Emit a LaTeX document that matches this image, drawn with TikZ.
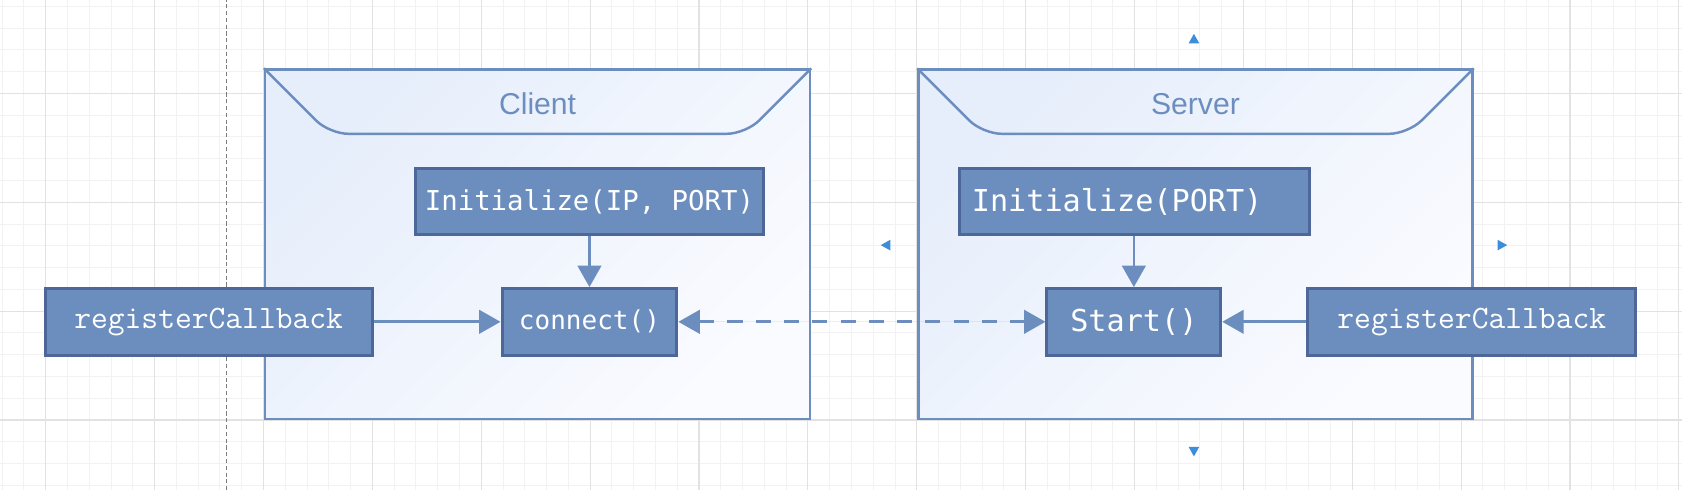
\documentclass[tikz,border=0pt]{standalone}
\usepackage{fontspec}
\setmainfont{Liberation Sans}
\newfontfamily\codefont{DejaVu Sans Mono}
\usetikzlibrary{arrows.meta}
\definecolor{netblue}{HTML}{6C8EBF}
\definecolor{netdark}{HTML}{4D6898}
\definecolor{netlight}{HTML}{E6EEFB}
\definecolor{netpale}{HTML}{FAFBFF}
\definecolor{gridminor}{HTML}{F2F2F2}
\definecolor{gridmajor}{HTML}{E2E2E2}
\definecolor{pagegray}{HTML}{7C7C7C}
\definecolor{hoverblue}{HTML}{3C8EDB}
\tikzset{
  frame/.style={
    draw=netblue,
    line width=1.3pt,
    top color=netlight,
    bottom color=netpale,
    shading angle=45,
    inner sep=0pt
  },
  notch/.style={
    draw=netblue,
    line width=1.3pt,
    rounded corners=10pt
  },
  title/.style={
    font=\fontsize{16}{19}\selectfont,
    text=netblue
  },
  block/.style={
    draw=netdark,
    fill=netblue,
    line width=1.6pt,
    text=white,
    minimum height=1.24cm,
    inner sep=0pt
  },
  arrow/.style={
    -{Triangle[length=4mm,width=4.4mm]},
    line width=1.4pt,
    draw=netblue,
    fill=netblue
  },
  link/.style={
    {Triangle[length=4mm,width=4.4mm]}-{Triangle[length=4mm,width=4.4mm]},
    line width=1.4pt,
    draw=netblue,
    fill=netblue,
    dash pattern=on 8pt off 7pt
  },
  hover/.style={
    fill=hoverblue
  }
}

\begin{document}
\begin{tikzpicture}[x=1cm,y=1cm]

\useasboundingbox (0,0) rectangle (31.36,9.14);
\fill[white] (0,0) rectangle (31.36,9.14);

\begin{scope}[shift={(0.852,1.31)}]
  \draw[gridminor, line width=0.5pt, step=0.406] (-0.852,-1.31) grid (30.51,7.83);
  \draw[gridmajor, line width=0.6pt, step=2.03] (-0.852,-1.31) grid (30.51,7.83);
\end{scope}

\draw[pagegray, line width=0.8pt, dash pattern=on 2.2pt off 1.4pt] (4.22,0) -- (4.22,9.14);

\node[frame, minimum width=10.16cm, minimum height=6.51cm, anchor=south west] (client) at (4.92,1.31) {};
\draw[notch] (client.north west) -- ++(1.22,-1.22) -- ([xshift=-1.22cm,yshift=-1.22cm]client.north east) -- (client.north east);
\node[title] (clienttitle) at ([yshift=-0.66cm]client.north) {Client};

\node[frame, minimum width=10.33cm, minimum height=6.51cm, anchor=south west] (server) at (17.1,1.31) {};
\draw[notch] (server.north west) -- ++(1.22,-1.22) -- ([xshift=-1.22cm,yshift=-1.22cm]server.north east) -- (server.north east);
\node[title] (servertitle) at ([yshift=-0.66cm]server.north) {Server};

\node[block, minimum width=6.5cm, font=\codefont\fontsize{14.5}{17}\selectfont] (initc) at (10.99,5.38) {Initialize(IP, PORT)};

\node[block, minimum width=3.26cm, font=\codefont\fontsize{13.8}{16}\selectfont] (connect) at (10.99,3.14) {connect()};

\node[block, minimum width=6.1cm, font=\ttfamily\fontsize{17.3}{20}\selectfont] (regc) at (3.89,3.14) {registerCallback};

\node[block, text width=6.06cm, align=left, inner xsep=0.24cm, font=\codefont\fontsize{16}{19}\selectfont] (inits) at (21.15,5.38) {Initialize(PORT)};

\node[block, minimum width=3.24cm, font=\codefont\fontsize{16}{19}\selectfont] (start) at (21.14,3.14) {Start()};

\node[block, minimum width=6.12cm, font=\ttfamily\fontsize{17.3}{20}\selectfont] (regs) at (27.44,3.14) {registerCallback};

\draw[arrow] (initc.south -| connect.north) -- (connect.north);
\draw[arrow] (regc.east) -- (connect.west);
\draw[link] (connect.east) -- (start.west);
\draw[arrow] (inits.south -| start.north) -- (start.north);
\draw[arrow] (regs.west) -- (start.east);

\foreach \hx/\hy/\ang in {22.26/8.42/90, 16.51/4.57/180, 28.01/4.57/0, 22.26/0.72/-90} {
  \fill[hover, shift={(\hx,\hy)}, rotate=\ang] (0.09,0) -- (-0.09,0.1) -- (-0.09,-0.1) -- cycle;
}

\end{tikzpicture}
\end{document}
